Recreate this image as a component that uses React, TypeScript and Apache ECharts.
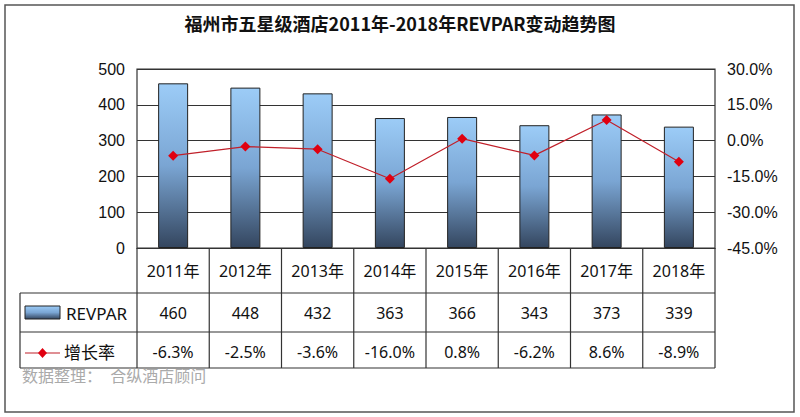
import { useEffect, useRef } from "react";
import * as echarts from "echarts";

const years = ["2011年", "2012年", "2013年", "2014年", "2015年", "2016年", "2017年", "2018年"];
const revpar = [460, 448, 432, 363, 366, 343, 373, 339];
const growth = [-6.3, -2.5, -3.6, -16.0, 0.8, -6.2, 8.6, -8.9];

const FONT = "'Noto Sans', 'Noto Sans CJK SC', sans-serif";
const L = 137;
const R = 715;
const TOP = 69;
const BOT = 248;
const ROW1 = 293;
const ROW2 = 332;
const ROW3 = 368;
const TL = 20;

const barGradient = () =>
  new echarts.graphic.LinearGradient(0, 0, 0, 1, [
    { offset: 0, color: "#9cccf7" },
    { offset: 0.5, color: "#7aa5d3" },
    { offset: 1, color: "#34465f" },
  ]);

export default function App() {
  const ref = useRef<HTMLDivElement>(null);

  useEffect(() => {
    document.body.style.margin = "0";
    if (!ref.current) return;
    const chart = echarts.init(ref.current, null, { renderer: "svg" });
    const colW = (R - L) / years.length;
    const lineStyle = { stroke: "#333", lineWidth: 1.2 };
    const g: any[] = [
      { type: "rect", shape: { x: 5, y: 5, width: 789, height: 407 }, style: { fill: "none", stroke: "#555", lineWidth: 1.5 } },
      { type: "line", shape: { x1: TL, y1: ROW1, x2: R, y2: ROW1 }, style: lineStyle },
      { type: "line", shape: { x1: TL, y1: ROW2, x2: R, y2: ROW2 }, style: lineStyle },
      { type: "line", shape: { x1: TL, y1: ROW3, x2: R, y2: ROW3 }, style: lineStyle },
      { type: "line", shape: { x1: TL, y1: ROW1, x2: TL, y2: ROW3 }, style: lineStyle },
      // legend keys
      { type: "rect", shape: { x: 25, y: 306, width: 35, height: 13 }, style: { fill: barGradient(), stroke: "#222", lineWidth: 1 } },
      { type: "line", shape: { x1: 25, y1: 353, x2: 60, y2: 353 }, style: { stroke: "#c0202a", lineWidth: 1.2 } },
      { type: "polygon", shape: { points: [[42.5, 348], [47, 353], [42.5, 358], [38, 353]] }, style: { fill: "#e00010" } },
      { type: "text", x: 66, y: 313, style: { text: "REVPAR", font: `17px ${FONT}`, fill: "#111", verticalAlign: "middle" } },
      { type: "text", x: 64, y: 352, style: { text: "增长率", font: `17px ${FONT}`, fill: "#111", verticalAlign: "middle" } },
      { type: "text", x: 22, y: 376, style: { text: "数据整理：  合纵酒店顾问", font: `16px ${FONT}`, fill: "#aaa", verticalAlign: "middle" } },
      { type: "text", x: 400, y: 23, style: { text: "福州市五星级酒店2011年-2018年REVPAR变动趋势图", font: `bold 18px 'Noto Sans CJK SC', sans-serif`, fill: "#111", align: "center", verticalAlign: "middle" } },
    ];
    for (let i = 0; i <= years.length; i++) {
      const x = L + i * colW;
      g.push({ type: "line", shape: { x1: x, y1: BOT, x2: x, y2: ROW3 }, style: lineStyle });
    }
    years.forEach((_, i) => {
      const cx = L + (i + 0.5) * colW;
      g.push({ type: "text", x: cx, y: 313, style: { text: String(revpar[i]), font: `16px ${FONT}`, fill: "#111", align: "center", verticalAlign: "middle" } });
      g.push({ type: "text", x: cx, y: 352, style: { text: growth[i].toFixed(1) + "%", font: `16px ${FONT}`, fill: "#111", align: "center", verticalAlign: "middle" } });
    });

    chart.setOption({
      animation: false,
      grid: { left: L, right: 800 - R, top: TOP, bottom: 417 - BOT, show: true, borderColor: "#333", borderWidth: 1.2 },
      xAxis: {
        type: "category",
        data: years,
        axisLine: { lineStyle: { color: "#333", width: 1.2 } },
        axisTick: { show: false },
        axisLabel: { color: "#111", fontSize: 16, fontFamily: FONT, margin: 15 },
      },
      yAxis: [
        {
          type: "value", min: 0, max: 500, interval: 100,
          axisLine: { show: false }, axisTick: { show: false },
          axisLabel: { color: "#111", fontSize: 16, fontFamily: "Liberation Sans, sans-serif", margin: 12 },
          splitLine: { lineStyle: { color: "#333", width: 1.2 } },
        },
        {
          type: "value", min: -45, max: 30, interval: 15,
          axisLine: { show: false }, axisTick: { show: false }, splitLine: { show: false },
          axisLabel: { color: "#111", fontSize: 16, fontFamily: "Liberation Sans, sans-serif", margin: 12, formatter: (v: number) => v.toFixed(1) + "%" },
        },
      ],
      series: [
        {
          type: "bar", data: revpar, barWidth: 30,
          itemStyle: { color: barGradient(), borderColor: "#222", borderWidth: 1 },
        },
        {
          type: "line", yAxisIndex: 1, data: growth,
          symbol: "diamond", symbolSize: 10,
          lineStyle: { color: "#c0202a", width: 1.2 },
          itemStyle: { color: "#e00010" },
        },
      ],
      graphic: g,
    });
    return () => chart.dispose();
  }, []);

  return <div ref={ref} style={{ width: 800, height: 417 }} />;
}
